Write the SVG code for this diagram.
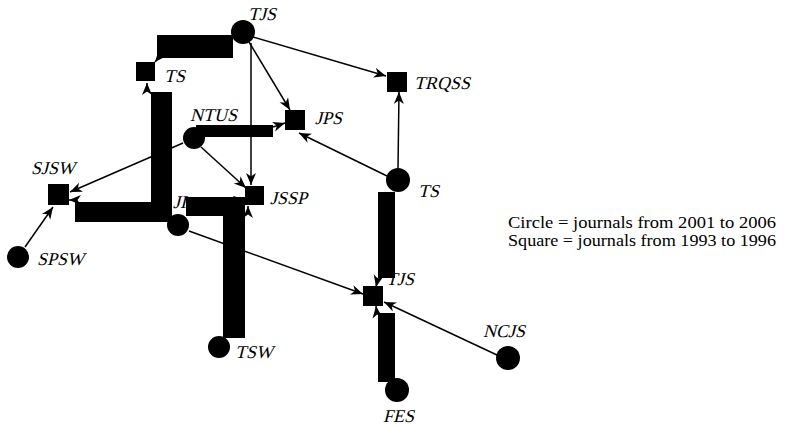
<svg xmlns="http://www.w3.org/2000/svg" width="786" height="428" viewBox="0 0 786 428">
<style>
.lbl{font-family:"Liberation Serif","Times New Roman",serif;font-size:18px;fill:#000}
.leg{font-family:"Liberation Serif","Times New Roman",serif;font-size:17px;fill:#000}
.thin{stroke:#000;stroke-width:1.5;fill:none}
.bar{fill:#000}
.tip{stroke:#000;stroke-width:1.5;fill:none}
</style>
<defs>
<marker id="arr" markerUnits="userSpaceOnUse" markerWidth="14" markerHeight="12" refX="12" refY="5" orient="auto">
<path d="M0,0 L12,5 L0,10 L3.5,5 z" fill="#000"/>
</marker>
</defs>
<rect width="786" height="428" fill="#fff"/>
<g id="connectors">
<line class="thin" x1="253" y1="37" x2="386" y2="76" marker-end="url(#arr)"/>
<line class="thin" x1="249" y1="42" x2="290" y2="110" marker-end="url(#arr)"/>
<line class="thin" x1="251" y1="43" x2="251" y2="185" marker-end="url(#arr)"/>
<line class="thin" x1="201" y1="147" x2="246" y2="188" marker-end="url(#arr)"/>
<line class="thin" x1="183" y1="143" x2="70" y2="192" marker-end="url(#arr)"/>
<line class="thin" x1="25" y1="247" x2="53" y2="207" marker-end="url(#arr)"/>
<line class="thin" x1="387" y1="176" x2="299" y2="133" marker-end="url(#arr)"/>
<line class="thin" x1="398" y1="168" x2="399" y2="92" marker-end="url(#arr)"/>
<line class="thin" x1="189" y1="231" x2="363" y2="294" marker-end="url(#arr)"/>
<line class="thin" x1="497" y1="355" x2="384" y2="302" marker-end="url(#arr)"/>
<rect class="bar" x="157" y="35" width="76" height="23"/>
<line class="tip" x1="160" y1="56" x2="155" y2="62" marker-end="url(#arr)"/>
<rect class="bar" x="151" y="92" width="21" height="130"/>
<rect class="bar" x="75" y="202" width="97" height="20"/>
<line class="tip" x1="147" y1="92" x2="147" y2="83" marker-end="url(#arr)"/>
<line class="tip" x1="76" y1="200" x2="69" y2="200" marker-end="url(#arr)"/>
<rect class="bar" x="186" y="197" width="55" height="19"/>
<rect class="bar" x="223" y="197" width="22" height="141"/>
<line class="tip" x1="238" y1="200" x2="245" y2="199" marker-end="url(#arr)"/>
<line class="tip" x1="248" y1="214" x2="248" y2="206" marker-end="url(#arr)"/>
<rect class="bar" x="196" y="125" width="77" height="12"/>
<line class="tip" x1="273" y1="127" x2="285" y2="123" marker-end="url(#arr)"/>
<rect class="bar" x="378" y="192" width="17" height="86"/>
<line class="tip" x1="378" y1="278" x2="376" y2="287" marker-end="url(#arr)"/>
<rect class="bar" x="378" y="313" width="17" height="69"/>
<line class="tip" x1="377" y1="314" x2="376" y2="306" marker-end="url(#arr)"/>
</g>
<g id="n-tjs-top"><circle cx="243" cy="32" r="12"/><text class="lbl" transform="translate(248 20) skewX(-14)">TJS</text></g>
<g id="n-ts-sq"><rect x="136" y="62" width="19" height="19"/><text class="lbl" transform="translate(164 82) skewX(-14)">TS</text></g>
<g id="n-trqss"><rect x="387" y="72" width="20" height="20"/><text class="lbl" transform="translate(414 89) skewX(-14)">TRQSS</text></g>
<g id="n-jps"><rect x="285" y="110" width="20" height="20"/><text class="lbl" transform="translate(315 124) skewX(-14)">JPS</text></g>
<g id="n-ntus"><circle cx="194" cy="138" r="11"/><text class="lbl" transform="translate(190 121) skewX(-14)">NTUS</text></g>
<g id="n-jssp"><rect x="245" y="186" width="19" height="19"/><text class="lbl" transform="translate(270 204) skewX(-14)">JSSP</text></g>
<g id="n-sjsw"><rect x="48" y="184" width="21" height="21"/><text class="lbl" transform="translate(31 174) skewX(-14)">SJSW</text></g>
<g id="n-spsw"><circle cx="18" cy="257" r="11"/><text class="lbl" transform="translate(37 265) skewX(-14)">SPSW</text></g>
<g id="n-ji"><circle cx="178" cy="225" r="11"/><text class="lbl" transform="translate(173 208) skewX(-14)">JI</text></g>
<g id="n-ts-c"><circle cx="398" cy="180" r="12"/><text class="lbl" transform="translate(418 197) skewX(-14)">TS</text></g>
<g id="n-tjs-sq"><rect x="363" y="286" width="20" height="20"/><text class="lbl" transform="translate(386 285) skewX(-14)">TJS</text></g>
<g id="n-tsw"><circle cx="219" cy="347" r="11"/><text class="lbl" transform="translate(235 358) skewX(-14)">TSW</text></g>
<g id="n-fes"><circle cx="397" cy="390" r="12"/><text class="lbl" transform="translate(383 422) skewX(-14)">FES</text></g>
<g id="n-ncjs"><circle cx="508" cy="358" r="12"/><text class="lbl" transform="translate(483 337) skewX(-14)">NCJS</text></g>
<g id="legend"><text class="leg" x="508" y="228" textLength="268" lengthAdjust="spacingAndGlyphs">Circle = journals from 2001 to 2006</text><text class="leg" x="508" y="246" textLength="268" lengthAdjust="spacingAndGlyphs">Square = journals from 1993 to 1996</text></g>
</svg>
